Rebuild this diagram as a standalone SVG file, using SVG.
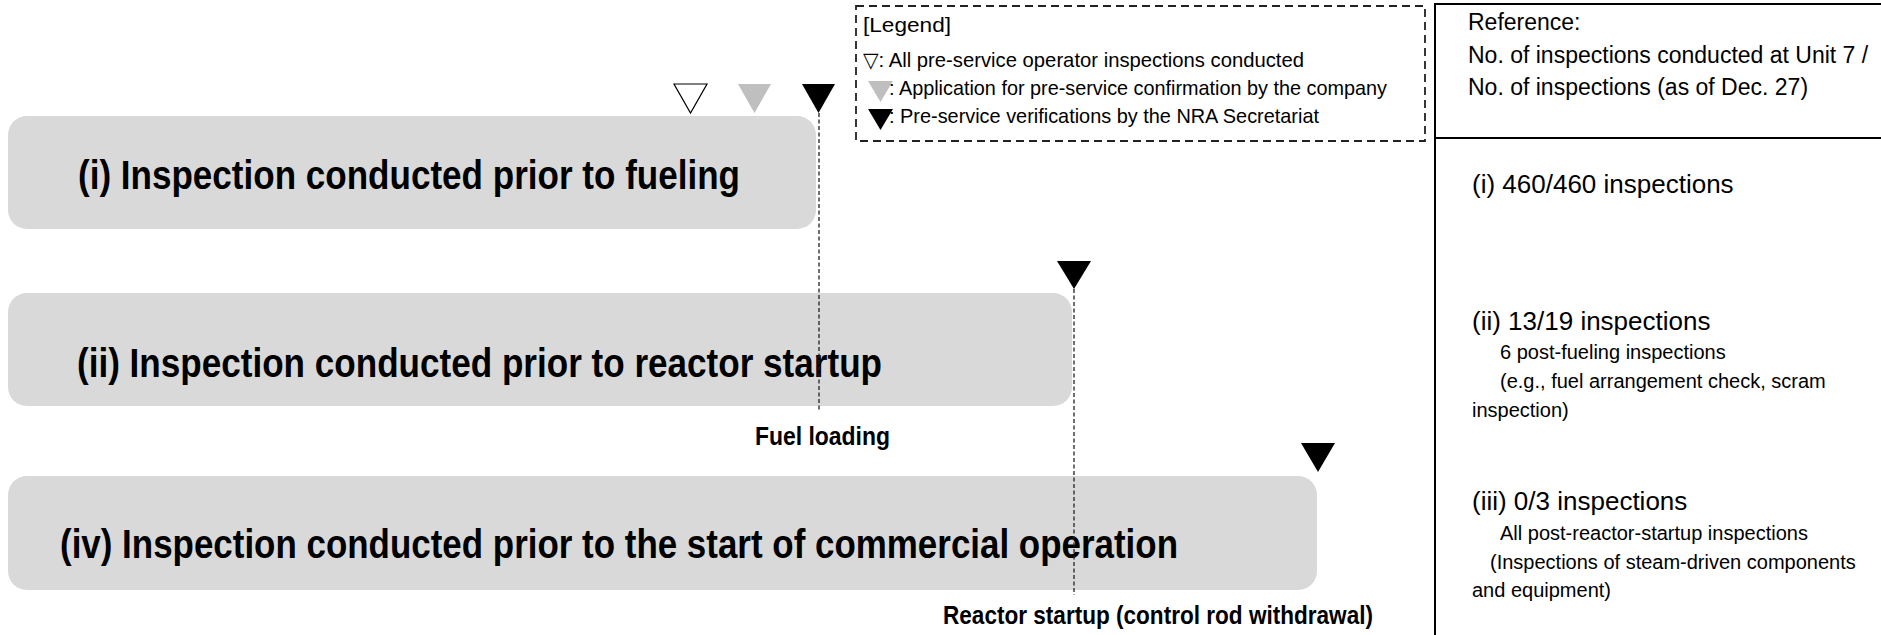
<svg xmlns="http://www.w3.org/2000/svg" width="1881" height="635" viewBox="0 0 1881 635">
  <style>
    .stage { fill: #d9d9d9; }
    .stage-label { font-family: "Liberation Sans Narrow", "Liberation Sans", Arial, sans-serif; font-weight: bold; font-size: 40px; fill: #000; }
    .milestone { font-family: "Liberation Sans Narrow", "Liberation Sans", Arial, sans-serif; font-weight: bold; font-size: 25px; fill: #000; }
    .guide { fill: none; stroke: #222; stroke-width: 1.3; stroke-dasharray: 4 2.5; }
    .mark-black { fill: #000; }
    .mark-gray { fill: #bfbfbf; }
    .mark-open { fill: #fff; stroke: #000; stroke-width: 1.2; }
    .legend-frame { fill: none; stroke: #222; stroke-width: 1.8; stroke-dasharray: 8 5; }
    .legend-text { font-family: "Liberation Sans", Arial, "DejaVu Sans", sans-serif; font-size: 21px; fill: #000; }
    .panel-line { stroke: #000; stroke-width: 2; fill: none; }
    .panel-text { font-family: "Liberation Sans", Arial, sans-serif; fill: #000; }
    .hdr { font-size: 23px; }
    .main { font-size: 26px; }
    .sub { font-size: 20px; }
  </style>

  <!-- inspection stages -->
  <g id="stage-fueling">
    <rect class="stage" x="8" y="116" width="808" height="113" rx="19"/>
    <text class="stage-label" x="78" y="189" textLength="662" lengthAdjust="spacingAndGlyphs">(i) Inspection conducted prior to fueling</text>
  </g>
  <g id="stage-startup">
    <rect class="stage" x="8" y="293" width="1064" height="113" rx="19"/>
    <text class="stage-label" x="77" y="377" textLength="805" lengthAdjust="spacingAndGlyphs">(ii) Inspection conducted prior to reactor startup</text>
  </g>
  <g id="stage-commercial">
    <rect class="stage" x="8" y="476" width="1309" height="114" rx="19"/>
    <text class="stage-label" x="60" y="558" textLength="1118" lengthAdjust="spacingAndGlyphs">(iv) Inspection conducted prior to the start of commercial operation</text>
  </g>

  <!-- milestone markers -->
  <g id="markers-fueling">
    <polygon class="mark-open" points="674,84 707,84 690.5,113"/>
    <polygon class="mark-gray" points="738,84 771,84 754.5,113"/>
    <polygon class="mark-black" points="802,84 835,84 818.5,113"/>
  </g>
  <g id="marker-startup">
    <polygon class="mark-black" points="1057,261 1091,261 1074,289"/>
  </g>
  <g id="marker-commercial">
    <polygon class="mark-black" points="1301,443 1335,443 1318,472"/>
  </g>

  <!-- dashed guides down to the milestones -->
  <g id="connectors">
    <line class="guide" x1="819" y1="113" x2="819" y2="411"/>
    <line class="guide" x1="1074" y1="289" x2="1074" y2="595"/>
  </g>

  <g id="milestone-fuel-loading">
    <text class="milestone" x="755" y="445" textLength="135" lengthAdjust="spacingAndGlyphs">Fuel loading</text>
  </g>
  <g id="milestone-reactor-startup">
    <text class="milestone" x="943" y="624" textLength="430" lengthAdjust="spacingAndGlyphs">Reactor startup (control rod withdrawal)</text>
  </g>

  <!-- legend -->
  <g id="legend">
    <rect class="legend-frame" x="856" y="6" width="569" height="135"/>
    <text class="legend-text" x="863" y="32" textLength="88" lengthAdjust="spacingAndGlyphs">[Legend]</text>
    <text class="legend-text" x="863" y="67" textLength="441" lengthAdjust="spacingAndGlyphs">▽: All pre-service operator inspections conducted</text>
    <polygon class="mark-gray" points="868,81 893,81 880.5,102"/>
    <text class="legend-text" x="889" y="95" textLength="498" lengthAdjust="spacingAndGlyphs">: Application for pre-service confirmation by the company</text>
    <polygon class="mark-black" points="868,109 893,109 880.5,130"/>
    <text class="legend-text" x="889" y="123" textLength="430" lengthAdjust="spacingAndGlyphs">: Pre-service verifications by the NRA Secretariat</text>
  </g>

  <!-- reference panel -->
  <g id="reference-panel">
    <line class="panel-line" x1="1435" y1="3" x2="1435" y2="635"/>
    <line class="panel-line" x1="1435" y1="4" x2="1881" y2="4"/>
    <line class="panel-line" x1="1435" y1="138" x2="1881" y2="138"/>
    <text class="panel-text hdr" x="1468" y="30">Reference:</text>
    <text class="panel-text hdr" x="1468" y="63">No. of inspections conducted at Unit 7 /</text>
    <text class="panel-text hdr" x="1468" y="95">No. of inspections (as of Dec. 27)</text>

    <text class="panel-text main" x="1472" y="193">(i) 460/460 inspections</text>

    <text class="panel-text main" x="1472" y="330">(ii) 13/19 inspections</text>
    <text class="panel-text sub" x="1500" y="359">6 post-fueling inspections</text>
    <text class="panel-text sub" x="1500" y="388">(e.g., fuel arrangement check, scram</text>
    <text class="panel-text sub" x="1472" y="417">inspection)</text>

    <text class="panel-text main" x="1472" y="510">(iii) 0/3 inspections</text>
    <text class="panel-text sub" x="1500" y="540">All post-reactor-startup inspections</text>
    <text class="panel-text sub" x="1490" y="569">(Inspections of steam-driven components</text>
    <text class="panel-text sub" x="1472" y="597">and equipment)</text>
  </g>
</svg>
